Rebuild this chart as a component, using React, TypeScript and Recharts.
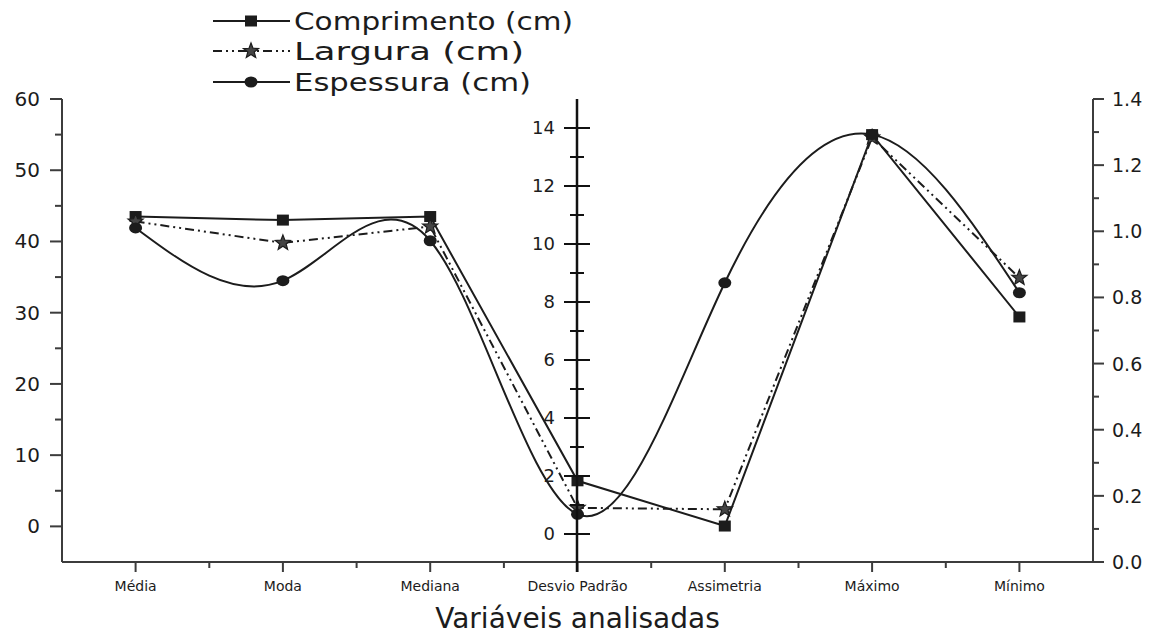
import React from "react"
import { LineChart, Line, XAxis, YAxis } from "recharts"

const categories = ["Média", "Moda", "Mediana", "Desvio Padrão", "Assimetria", "Máximo", "Mínimo"]
const comprimento = [43.5, 43.0, 43.5, 6.4, 0.05, 55.0, 29.4]
const largura = [42.8, 39.8, 42.1, 2.6, 2.4, 54.6, 34.9]
const espessura = [41.9, 34.5, 40.1, 1.7, 34.2, 55.0, 32.8]

const leftTicks = [-5, 0, 5, 10, 15, 20, 25, 30, 35, 40, 45, 50, 55, 60]
const rightTicks = [0, 0.1, 0.2, 0.3, 0.4, 0.5, 0.6, 0.7, 0.8, 0.9, 1.0, 1.1, 1.2, 1.3, 1.4]
const midTicks = [0, 1, 2, 3, 4, 5, 6, 7, 8, 9, 10, 11, 12, 13, 14]

const data = categories.map((name, i) => ({
  name,
  comprimento: comprimento[i],
  largura: largura[i],
  espessura: espessura[i],
}))

const INK = "#1c1c1c"
const AXIS = "#3c3c3c"
const FONT = "'DejaVu Sans', sans-serif"
const HALF_STEP = 73.6
const LARGURA_DASH = "9 4 2 4 2 4"

// markers
const squarePath = (cx: number, cy: number) => (
  <rect x={cx - 6} y={cy - 5.5} width={12} height={11} fill={INK} />
)
const circleMark = (cx: number, cy: number) => <ellipse cx={cx} cy={cy} rx={6.5} ry={5.5} fill={INK} />
const starMark = (cx: number, cy: number) => {
  const pts: string[] = []
  for (let k = 0; k < 10; k++) {
    const r = k % 2 === 0 ? 8 : 3.4
    const a = -Math.PI / 2 + (k * Math.PI) / 5
    pts.push(`${cx + r * Math.cos(a)},${cy + r * Math.sin(a)}`)
  }
  return <polygon points={pts.join(" ")} fill="#444" stroke={INK} strokeWidth={1.2} />
}

const dotSquare = (p: any) => <g key={`sq-${p.index}`}>{squarePath(p.cx, p.cy)}</g>
const dotStar = (p: any) => <g key={`st-${p.index}`}>{starMark(p.cx, p.cy)}</g>
const dotCircle = (p: any) => <g key={`ci-${p.index}`}>{circleMark(p.cx, p.cy)}</g>

const LeftTick = (props: any) => {
  const { x, y, payload } = props
  const v = payload.value
  if (v === -5) return <g />
  const major = v % 10 === 0
  return (
    <g>
      <line x1={x - (major ? 12 : 7)} y1={y} x2={x} y2={y} stroke={AXIS} strokeWidth={2} />
      {major && (
        <text x={x - 22} y={y + 7} textAnchor="end" fontSize={20} fill={INK} fontFamily={FONT}>
          {v}
        </text>
      )}
    </g>
  )
}

const RightTick = (props: any) => {
  const { x, y, payload } = props
  const v = payload.value
  const major = Math.round(v * 10) % 2 === 0
  return (
    <g>
      <line x1={x} y1={y} x2={x + (major ? 11 : 6)} y2={y} stroke={AXIS} strokeWidth={2} />
      {major && (
        <text x={x + 19} y={y + 7} textAnchor="start" fontSize={19} fill={INK} fontFamily={FONT}>
          {v.toFixed(1)}
        </text>
      )}
    </g>
  )
}

const MidTick = (props: any) => {
  const { x, y, payload } = props
  const v = payload.value
  const major = v % 2 === 0
  const len = major ? 13 : 7
  return (
    <g>
      <line x1={x - len} y1={y} x2={x + len} y2={y} stroke="#111" strokeWidth={2} />
      {major && (
        <text x={x - 22} y={y + 6} textAnchor="end" fontSize={18} fill={INK} fontFamily={FONT}>
          {v}
        </text>
      )}
    </g>
  )
}

const XTick = (props: any) => {
  const { x, y, payload, index } = props
  return (
    <g>
      <line x1={x} y1={y} x2={x} y2={y + 10} stroke={AXIS} strokeWidth={2} />
      {index > 0 && <line x1={x - HALF_STEP} y1={y} x2={x - HALF_STEP} y2={y + 6} stroke={AXIS} strokeWidth={2} />}
      <text x={x} y={y + 29} textAnchor="middle" fontSize={14} fill={INK} fontFamily={FONT}>
        {payload.value}
      </text>
    </g>
  )
}

const legendRows = [
  { label: "Comprimento (cm)", y: 21, len: 279, dash: undefined as string | undefined, mark: squarePath },
  { label: "Largura (cm)", y: 51, len: 230, dash: LARGURA_DASH, mark: starMark },
  { label: "Espessura (cm)", y: 82, len: 237, dash: undefined as string | undefined, mark: circleMark },
]

const LegendBox = () => (
  <svg width={620} height={100} style={{ position: "absolute", left: 0, top: 0 }}>
    {legendRows.map((r) => (
      <g key={r.label}>
        <line x1={213} y1={r.y} x2={290} y2={r.y} stroke={INK} strokeWidth={2} strokeDasharray={r.dash} />
        {r.mark(251, r.y)}
        <text
          x={294}
          y={r.y + 9}
          fontSize={25}
          fill={INK}
          fontFamily={FONT}
          textLength={r.len}
          lengthAdjust="spacingAndGlyphs"
        >
          {r.label}
        </text>
      </g>
    ))}
  </svg>
)

export default function App() {
  return (
    <div
      style={{
        position: "absolute",
        left: 0,
        top: 0,
        width: 1165,
        height: 636,
        background: "#fff",
        fontFamily: FONT,
      }}
    >
      <div style={{ position: "absolute", left: 0, top: 0 }}>
        <LineChart width={1165} height={636} data={data} margin={{ top: 99, left: 2, right: 12, bottom: 8 }}>
          <XAxis
            dataKey="name"
            scale="point"
            padding={{ left: HALF_STEP, right: HALF_STEP }}
            height={66}
            tickSize={0}
            tickMargin={0}
            interval={0}
            tick={XTick}
            axisLine={{ stroke: AXIS, strokeWidth: 2 }}
            label={{ value: "Variáveis analisadas", position: "insideBottom", offset: 0, fontSize: 28, fill: INK }}
          />
          <YAxis
            yAxisId="left"
            width={60}
            domain={[-5, 60]}
            ticks={leftTicks}
            interval={0}
            tickSize={0}
            tickMargin={0}
            tick={LeftTick}
            axisLine={{ stroke: AXIS, strokeWidth: 2 }}
            allowDataOverflow
          />
          <YAxis
            yAxisId="right"
            orientation="right"
            width={60}
            domain={[0, 1.4]}
            ticks={rightTicks}
            interval={0}
            tickSize={0}
            tickMargin={0}
            tick={RightTick}
            axisLine={{ stroke: AXIS, strokeWidth: 2 }}
            allowDataOverflow
          />
          <Line
            yAxisId="left"
            type="linear"
            dataKey="comprimento"
            name="Comprimento (cm)"
            stroke={INK}
            strokeWidth={2}
            dot={dotSquare}
            activeDot={false}
            isAnimationActive={false}
          />
          <Line
            yAxisId="left"
            type="linear"
            dataKey="largura"
            name="Largura (cm)"
            stroke={INK}
            strokeWidth={2}
            strokeDasharray={LARGURA_DASH}
            dot={dotStar}
            activeDot={false}
            isAnimationActive={false}
          />
          <Line
            yAxisId="left"
            type="natural"
            dataKey="espessura"
            name="Espessura (cm)"
            stroke={INK}
            strokeWidth={2}
            dot={dotCircle}
            activeDot={false}
            isAnimationActive={false}
          />
        </LineChart>
      </div>
      <div style={{ position: "absolute", left: 0, top: 0, pointerEvents: "none" }}>
        <LineChart width={1165} height={636} data={data} margin={{ top: 99, left: 517, right: 0, bottom: 64 }}>
          <XAxis dataKey="name" hide />
          <YAxis
            width={60}
            domain={[-1.31, 15]}
            ticks={midTicks}
            interval={0}
            tickSize={0}
            tickMargin={0}
            tick={MidTick}
            axisLine={{ stroke: "#111", strokeWidth: 2.5 }}
            allowDataOverflow
          />
        </LineChart>
      </div>
      <LegendBox />
    </div>
  )
}
